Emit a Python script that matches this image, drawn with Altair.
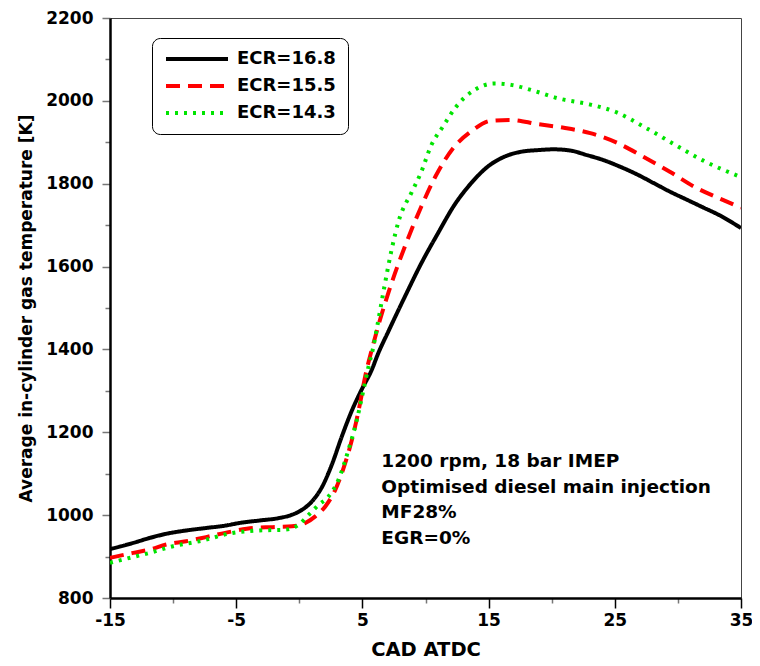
import altair as alt
import pandas as pd

# ---------------- data ----------------
cad_168 = [-15, -13.16, -11.85, -10.54, -8.96, -7.39, -5.81, -4.76, -3.19, -1.61, -0.57, 0.22,
           1.0, 1.8, 2.58, 3.37, 4.16, 4.94, 5.73, 6.26, 7.05, 8.36, 9.67, 10.98, 12.3, 13.61,
           14.92, 16.24, 17.55, 18.86, 20.17, 21.48, 22.8, 24.1, 25.42, 26.73, 28.05, 29.36,
           30.67, 31.98, 33.29, 35]
temp_168 = [918, 933, 945, 955, 963, 969, 975, 981, 987, 993, 1001, 1013,
            1033, 1068, 1122, 1190, 1252, 1303, 1350, 1391, 1443, 1527, 1608, 1680, 1749, 1801,
            1841, 1865, 1877, 1881, 1883, 1880, 1869, 1857, 1841, 1823, 1802, 1781,
            1762, 1743, 1724, 1693]

cad_155 = [-15, -13.16, -11.85, -10.54, -8.96, -7.39, -5.28, -3.7, -2.13, -0.57, 0.48, 1.27,
           2.06, 2.85, 3.64, 4.3, 4.82, 5.22, 5.75, 6.39, 7.31, 8.36, 9.67, 10.85, 12.17, 13.61,
           15.18, 16.76, 18.86, 20.96, 23.06, 25.16, 27.26, 29.36, 31.46, 33.56, 35]
temp_155 = [897, 909, 917, 929, 937, 947, 961, 969, 971, 973, 981, 997,
            1021, 1061, 1126, 1198, 1271, 1335, 1400, 1471, 1560, 1648, 1745, 1821, 1885, 1926,
            1952, 1954, 1944, 1935, 1922, 1899, 1865, 1829, 1790, 1761, 1742]

cad_143 = [-15, -13.16, -11.85, -10.0, -7.92, -5.28, -3.19, -1.09, -0.04, 0.75, 1.54, 2.32,
           3.11, 3.9, 4.56, 5.09, 5.49, 5.88, 6.2, 6.74, 7.31, 7.89, 8.88, 9.62, 10.46, 11.38,
           12.43, 13.87, 15.45, 16.89, 18.4, 20.64, 22.93, 25.16, 27.39, 29.67, 31.93, 35]
temp_143 = [885, 899, 909, 925, 937, 957, 963, 965, 977, 1001, 1025, 1045,
            1086, 1158, 1230, 1303, 1359, 1408, 1460, 1551, 1640, 1712, 1778, 1825, 1893, 1938,
            1986, 2026, 2042, 2038, 2026, 2005, 1992, 1972, 1936, 1896, 1857, 1816]

series_names = ["ECR=16.8", "ECR=15.5", "ECR=14.3"]
series_colors = ["#000000", "#ff0000", "#00e400"]
series_dashes = [[1, 0], [14, 8], [3, 6]]
series_widths = [4, 4, 3.5]

note_lines = ["1200 rpm, 18 bar IMEP", "Optimised diesel main injection", "MF28%", "EGR=0%"]

x_ticks = list(range(-15, 36, 5))
y_ticks = list(range(800, 2201, 100))

# ---------------- build table ----------------
rows = []
for name, xs, ys in zip(series_names, [cad_168, cad_155, cad_143], [temp_168, temp_155, temp_143]):
    for xv, yv in zip(xs, ys):
        rows.append({"cad": xv, "temp": yv, "series": name})
df = pd.DataFrame(rows)

FONT = "DejaVu Sans"

x_enc = alt.X(
    "cad:Q",
    scale=alt.Scale(domain=[-15, 35], nice=False, zero=False),
    axis=alt.Axis(
        values=x_ticks,
        labelExpr="(datum.value + 15) % 10 === 0 ? '' + datum.value : ''",
        title="CAD ATDC",
        tickSize={"condition": {"test": "(datum.value + 15) % 10 === 0", "value": 10}, "value": 5},
        tickColor={"condition": {"test": "(datum.value + 15) % 10 === 0", "value": "#000000"}, "value": "#777777"},
        labelPadding=4,
        titlePadding=12,
    ),
)
y_enc = alt.Y(
    "temp:Q",
    scale=alt.Scale(domain=[800, 2200], nice=False, zero=False),
    axis=alt.Axis(
        values=y_ticks,
        labelExpr="datum.value % 200 === 0 ? '' + datum.value : ''",
        title="Average in-cylinder gas temperature [K]",
        tickSize={"condition": {"test": "datum.value % 200 === 0", "value": 8}, "value": 5},
        tickColor="#777777",
        labelPadding=9,
        titlePadding=10,
    ),
)

legend_opts = dict(
    title=None,
    orient="none",
    legendX=42,
    legendY=20,
    symbolType="stroke",
    symbolSize=3844,
    symbolStrokeWidth=4,
    clipHeight=18,
    rowPadding=9,
    padding=12,
    labelOffset=7,
    labelFont=FONT,
    labelFontSize=18,
    labelFontWeight="bold",
    labelColor="#000000",
    labelLimit=0,
    strokeColor="#000000",
    cornerRadius=8,
    fillColor="#ffffff",
)

lines = alt.Chart(df).mark_line(interpolate="monotone", clip=True).encode(
    x=x_enc,
    y=y_enc,
    color=alt.Color(
        "series:N",
        scale=alt.Scale(domain=series_names, range=series_colors),
        legend=alt.Legend(**legend_opts),
    ),
    strokeDash=alt.StrokeDash(
        "series:N",
        scale=alt.Scale(domain=series_names, range=series_dashes),
        legend=alt.Legend(**legend_opts),
    ),
    strokeWidth=alt.StrokeWidth(
        "series:N",
        scale=alt.Scale(domain=series_names, range=series_widths),
        legend=None,
    ),
)

note = alt.Chart(pd.DataFrame({"text": ["\n".join(note_lines)]})).mark_text(
    align="left",
    baseline="alphabetic",
    lineBreak="\n",
    lineHeight=25.5,
    font=FONT,
    fontSize=18.5,
    fontWeight="bold",
    color="#000000",
).encode(
    x=alt.datum(6.5),
    y=alt.datum(1116),
    text="text:N",
)

chart = alt.layer(lines, note).properties(
    width=631,
    height=580,
    padding={"left": 102, "top": 10, "right": 11, "bottom": 66},
    autosize=alt.AutoSizeParams(type="none"),
    background="#ffffff",
).configure_view(
    stroke="#444444",
    strokeWidth=1,
).configure_axis(
    grid=False,
    domainColor="#000000",
    domainWidth=2.5,
    tickWidth=1.5,
    labelFont=FONT,
    labelFontSize=17,
    labelFontWeight="bold",
    labelColor="#000000",
    labelFlush=False,
    labelOverlap=False,
    titleFont=FONT,
    titleFontWeight="bold",
    titleColor="#000000",
).configure_axisX(
    titleFontSize=19.5,
).configure_axisY(
    titleFontSize=17,
)

chart.save("out.html", embed_options={"renderer": "svg", "actions": False})
